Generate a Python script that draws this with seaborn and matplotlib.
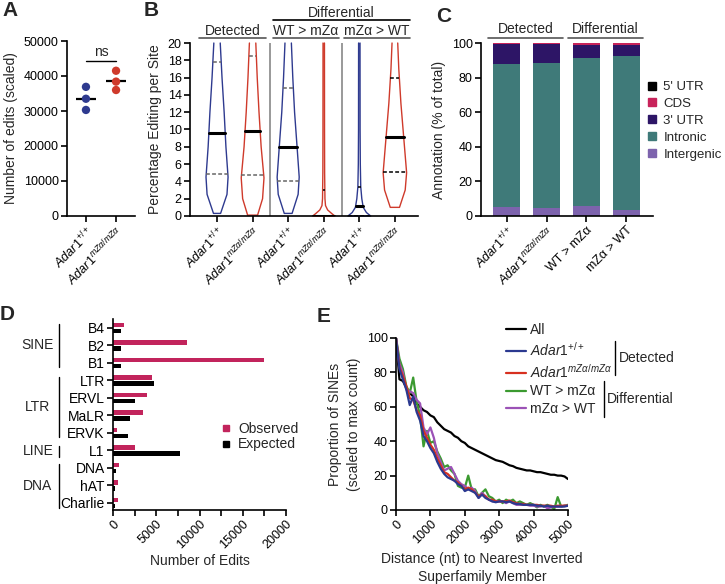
import numpy as np
import pandas as pd
import matplotlib
matplotlib.use('Agg')
import matplotlib.pyplot as plt
import seaborn as sns
from matplotlib.lines import Line2D
from matplotlib.transforms import blended_transform_factory

# ---- data ----
# A: number of edits per replicate
a_geno = ['wt', 'wt', 'wt', 'mut', 'mut', 'mut']
a_edits = [36900, 33500, 30300, 41500, 38400, 36000]

# B: violin profiles (editing %, relative half width) + quartiles
b_levels = [[0.3, 2.5, 4.5, 8, 12, 16, 20],
            [0.1, 2.0, 4.4, 8, 12, 16, 20],
            [0.3, 2.5, 4.5, 8, 12, 16, 20],
            [0, 0.3, 0.7, 1.2, 2, 5, 10, 20],
            [0, 0.4, 1.0, 2.0, 3.4, 6, 10, 20],
            [1.0, 3.0, 5.0, 9, 13, 17, 20]]
b_halfwidth = [[0.10, 0.28, 0.31, 0.25, 0.20, 0.14, 0.09],
               [0.14, 0.28, 0.32, 0.24, 0.18, 0.13, 0.09],
               [0.11, 0.28, 0.31, 0.25, 0.18, 0.13, 0.09],
               [0.31, 0.22, 0.11, 0.05, 0.034, 0.025, 0.022, 0.02],
               [0.32, 0.20, 0.11, 0.07, 0.04, 0.028, 0.022, 0.02],
               [0.13, 0.29, 0.33, 0.25, 0.17, 0.11, 0.08]]
b_median = [9.55, 9.8, 8.0, 0.05, 1.2, 9.1]
b_q1 = [4.9, 4.75, 4.1, 0.0, 0.05, 5.1]
b_q3 = [17.8, 18.55, 14.85, 2.95, 3.35, 15.9]
b_geno = ['wt', 'mut', 'wt', 'mut', 'wt', 'mut']

# C: annotation (% of total)
c_groups = ['wt', 'mut', 'WT > mZα', 'mZα > WT']
c_intergenic = [5.0, 4.6, 5.8, 3.6]
c_intronic = [83.1, 84.1, 85.5, 88.9]
c_utr3 = [11.3, 10.7, 7.4, 6.5]
c_cds = [0.5, 0.5, 1.2, 0.8]
c_utr5 = [0.1, 0.1, 0.1, 0.2]

# D: repeat families
d_family = ['B4', 'B2', 'B1', 'LTR', 'ERVL', 'MaLR', 'ERVK', 'L1', 'DNA', 'hAT', 'Charlie']
d_observed = [1230, 8520, 17420, 4510, 3970, 3430, 420, 2500, 690, 620, 620]
d_expected = [960, 890, 960, 4740, 2500, 1930, 1730, 7780, 390, 270, 190]

# E: proportion of SINEs vs distance
e_dist = list(range(0, 5001, 100))
e_all = [100, 76, 75, 71, 68, 66, 62, 60, 58, 57, 55, 54, 51, 49, 47, 46, 45, 43, 42, 40,
         39, 37, 36, 35, 34, 33, 32, 31, 30, 29, 28.5, 28, 27, 26, 25.5, 24.5, 24, 23.5, 23, 23,
         22.5, 22, 22, 21.5, 21, 20.5, 20.5, 20, 20, 19.5, 18]
e_wt = [100, 82, 76, 70, 61, 66, 57, 52, 43, 40, 36, 33, 28, 24, 21, 19, 18, 17, 15, 14,
        11, 12, 11, 10, 7, 9, 7, 6, 5, 4.5, 5, 5, 4.5, 5, 4, 3.5, 3.5, 3, 3, 3,
        3, 2.5, 2.5, 2, 2.5, 2, 2, 2, 2, 2, 2.5]
e_mut = [100, 83, 78, 72, 65, 64, 58, 55, 46, 42, 38, 35, 30, 26, 22, 21, 19, 17, 16, 14,
         12, 13, 12, 10, 8, 9, 8, 6, 6, 5, 5, 5, 5, 5.5, 4.5, 4, 3.5, 3.5, 3, 3,
         3, 3, 2.5, 2.5, 2.5, 2.5, 2, 2.5, 2.5, 2.5, 2.5]
e_wt_gt = [100, 88, 82, 72, 68, 77, 63, 55, 37, 46, 39, 40, 34, 30, 25, 26, 23, 21, 14, 13,
           13, 20, 12, 12, 8, 10, 12, 8, 7, 5, 6, 4, 6, 5, 6, 4, 5, 4, 3, 4,
           3, 1.5, 3, 2, 3, 2, 0.5, 7.5, 2, 2.5, 3]
e_mut_gt = [100, 85, 80, 70, 69, 68, 64, 62, 48, 44, 48, 42, 33, 28, 23, 24, 25, 21, 17, 15,
            14, 12, 13, 11, 7, 10, 8, 6, 5, 5, 5, 5, 4, 5, 4, 3, 3, 3, 3, 2.5,
            2.5, 2, 2, 2.5, 1, 1.5, 2, 2, 2, 2.5, 2.5]

BLUE = '#2e3a8f'
RED = '#cf3a2b'
geno_colors = {'wt': BLUE, 'mut': RED}

sns.set_style('ticks')
plt.rcParams['font.family'] = ['Liberation Sans', 'DejaVu Sans']
plt.rcParams['mathtext.fontset'] = 'custom'
plt.rcParams['mathtext.it'] = 'Liberation Sans:italic'
plt.rcParams['mathtext.rm'] = 'Liberation Sans'
plt.rcParams['axes.linewidth'] = 1.2
plt.rcParams['xtick.major.width'] = 1.2
plt.rcParams['ytick.major.width'] = 1.2
plt.rcParams['xtick.minor.width'] = 1.2
plt.rcParams['xtick.major.size'] = 4
plt.rcParams['ytick.major.size'] = 4
plt.rcParams['xtick.minor.size'] = 4
plt.rcParams['axes.edgecolor'] = 'black'
plt.rcParams['xtick.color'] = 'black'
plt.rcParams['ytick.color'] = 'black'

W, H = 725, 584
fig = plt.figure(figsize=(W / 100, H / 100), dpi=100)


def rect(l, t, r, b):
    return [l / W, 1 - b / H, (r - l) / W, (b - t) / H]


def fline(x0, y0, x1, y1, color='black', lw=1.2):
    fig.add_artist(Line2D([x0 / W, x1 / W], [1 - y0 / H, 1 - y1 / H],
                          transform=fig.transFigure, color=color, lw=lw))


def ftext(x, y, s, **kw):
    fig.text(x / W, 1 - y / H, s, **kw)


wt_lab = r'$\mathit{Adar1}^{\mathit{+/+}}$'
mut_lab = r'$\mathit{Adar1}^{\mathit{mZ\alpha/mZ\alpha}}$'
lab_of = {'wt': wt_lab, 'mut': mut_lab}


def style(ax):
    sns.despine(ax=ax)
    ax.tick_params(labelsize=9, pad=2)


# ---- A ----
axA = fig.add_axes(rect(67, 41, 135, 216))
dfA = pd.DataFrame({'geno': a_geno, 'edits': a_edits})
sns.stripplot(data=dfA, x='geno', y='edits', hue='geno', palette=geno_colors,
              order=['wt', 'mut'], jitter=False, size=6, legend=False, ax=axA)
means = dfA.groupby('geno')['edits'].mean()
for i, g in enumerate(['wt', 'mut']):
    axA.hlines(means[g], i - 0.33, i + 0.33, color='black', lw=1.6)
axA.plot([0, 1], [44300, 44300], color='black', lw=1.0)
axA.text(0.5, 45000, 'ns', ha='center', va='bottom', fontsize=10)
axA.set_xlim(-0.63, 1.63)
axA.set_ylim(0, 50000)
axA.set_yticks(range(0, 50001, 10000))
axA.set_xticks([0, 1])
axA.set_xticklabels([wt_lab, mut_lab], rotation=45, ha='right',
                    rotation_mode='anchor', fontsize=10.5)
axA.set_xlabel('')
axA.set_ylabel('Number of edits (scaled)', fontsize=10)
style(axA)

# ---- B ----
axB = fig.add_axes(rect(190, 43, 418, 216))
for i in range(6):
    ys = np.array(b_levels[i])
    hw = np.array(b_halfwidth[i])
    col = geno_colors[b_geno[i]]
    xs = np.concatenate([i - hw[::-1], i + hw])
    yy = np.concatenate([ys[::-1], ys])
    axB.plot(xs, yy, color=col, lw=1.0, clip_on=False)
    qcol = '#666666' if i < 3 else 'black'
    for q in (b_q1[i], b_q3[i]):
        w = np.interp(q, ys, hw)
        axB.plot([i - w, i + w], [q, q], color=qcol, lw=1.1, ls=(0, (2.5, 1.5)))
    w = np.interp(b_median[i], ys, hw)
    axB.plot([i - w, i + w], [b_median[i]] * 2, color='black', lw=2.2)
for sep in (1.5, 3.5):
    axB.axvline(sep, color='#888888', lw=1.2)
axB.set_xlim(-0.76, 5.65)
axB.set_ylim(0, 20)
axB.set_yticks(range(0, 21, 2))
axB.set_xticks(range(6))
axB.set_xticklabels([lab_of[g] for g in b_geno], rotation=45, ha='right',
                    rotation_mode='anchor', fontsize=10.5)
axB.set_ylabel('Percentage Editing per Site', fontsize=10)
style(axB)

# ---- C ----
axC = fig.add_axes(rect(481, 43, 653, 216))
c_layers = [('Intergenic', c_intergenic, '#7d63ad'),
            ('Intronic', c_intronic, '#3f7a79'),
            ("3' UTR", c_utr3, '#2d1566'),
            ('CDS', c_cds, '#c8235a'),
            ("5' UTR", c_utr5, '#000000')]
cum = np.zeros(4)
tops = []
for name, vals, col in c_layers:
    cum = cum + np.array(vals)
    tops.append((name, cum.copy(), col))
for name, top, col in tops[::-1]:
    sns.barplot(x=c_groups, y=top, color=col, saturation=1, width=0.68,
                linewidth=0, ax=axC)
axC.set_xlim(-0.655, 3.68)
axC.set_ylim(0, 100)
axC.set_yticks(range(0, 101, 20))
axC.set_xticks(range(4))
axC.set_xticklabels([wt_lab, mut_lab, 'WT > mZα', 'mZα > WT'], rotation=45,
                    ha='right', rotation_mode='anchor', fontsize=10.5)
axC.set_ylabel('Annotation (% of total)', fontsize=10)
style(axC)
c_handles = [Line2D([0], [0], marker='s', ls='none', color=col, markersize=5.5)
             for name, vals, col in c_layers[::-1]]
fig.legend(c_handles, [n for n, v, c in c_layers[::-1]], loc='upper left',
           bbox_to_anchor=(647 / W, 1 - 81 / H), frameon=False, fontsize=9.5,
           handlelength=0.8, handletextpad=0.45, labelspacing=0.35,
           borderpad=0, borderaxespad=0)

# ---- D ----
axD = fig.add_axes(rect(113, 319, 286, 510))
dfD = pd.DataFrame({'family': d_family * 2,
                    'edits': d_observed + d_expected,
                    'kind': ['Observed'] * 11 + ['Expected'] * 11})
sns.barplot(data=dfD, x='edits', y='family', hue='kind',
            hue_order=['Observed', 'Expected'], order=d_family,
            palette={'Observed': '#c2245c', 'Expected': 'black'},
            saturation=1, width=0.7, gap=0.3, linewidth=0, legend=False,
            orient='h', ax=axD)
axD.set_ylim(10.4, -0.51)
axD.set_xlim(0, 20000)
axD.set_xticks(range(0, 20001, 5000))
axD.set_xticks(range(0, 20001, 2500), minor=True)
plt.setp(axD.get_xticklabels(), rotation=45, ha='right', rotation_mode='anchor')
axD.set_ylabel('')
axD.set_xlabel('Number of Edits', fontsize=10, labelpad=2)
style(axD)
axD.tick_params(axis='y', labelsize=10)
trD = blended_transform_factory(axD.transAxes, axD.transData)
for name, y0, y1 in [('SINE', -0.25, 2.25), ('LTR', 2.8, 6.25),
                     ('LINE', 6.75, 7.35), ('DNA', 7.8, 10.3)]:
    axD.plot([-0.312, -0.312], [y0, y1], color='black', lw=1.0,
             transform=trD, clip_on=False)
    axD.text(-0.434, (y0 + y1) / 2, name, ha='center', va='center',
             fontsize=10, transform=trD)
d_handles = [Line2D([0], [0], marker='s', ls='none', color=c, markersize=5)
             for c in ('#c2245c', 'black')]
fig.legend(d_handles, ['Observed', 'Expected'], loc='upper left',
           bbox_to_anchor=(220 / W, 1 - 422 / H), frameon=False, fontsize=10,
           handlelength=0.8, handletextpad=0.5, labelspacing=0.1,
           borderpad=0, borderaxespad=0)

# ---- E ----
axE = fig.add_axes(rect(396, 338, 568, 510))
e_series = {'All': e_all, 'wt': e_wt, 'mut': e_mut,
            'WT > mZα': e_wt_gt, 'mZα > WT': e_mut_gt}
e_colors = {'All': 'black', 'wt': '#2b3990', 'mut': '#d7301f',
            'WT > mZα': '#3b9a30', 'mZα > WT': '#9b52b6'}
dfE = pd.concat([pd.DataFrame({'dist': e_dist, 'prop': v, 'series': k})
                 for k, v in e_series.items()])
sns.lineplot(data=dfE, x='dist', y='prop', hue='series',
             hue_order=['All', 'WT > mZα', 'mZα > WT', 'mut', 'wt'],
             palette=e_colors, linewidth=1.6, legend=False, errorbar=None,
             ax=axE)
axE.set_xlim(0, 5000)
axE.set_ylim(0, 100)
axE.set_xticks(range(0, 5001, 1000))
axE.set_yticks(range(0, 101, 20))
plt.setp(axE.get_xticklabels(), rotation=45, ha='right', rotation_mode='anchor')
axE.set_xlabel('Distance (nt) to Nearest Inverted\nSuperfamily Member',
               fontsize=10, linespacing=1.35)
axE.set_ylabel('Proportion of SINEs\n(scaled to max count)', fontsize=10,
               linespacing=1.5)
style(axE)
e_order = ['All', 'wt', 'mut', 'WT > mZα', 'mZα > WT']
e_handles = [Line2D([0], [0], color=e_colors[k], lw=1.6) for k in e_order]
fig.legend(e_handles, ['All', wt_lab, mut_lab, 'WT > mZα', 'mZα > WT'],
           loc='upper left', bbox_to_anchor=(506 / W, 1 - 323 / H),
           frameon=False, fontsize=10, handlelength=1.45, handletextpad=0.25,
           labelspacing=0.28, borderpad=0, borderaxespad=0)
fline(615, 341, 615, 375, lw=1.0)
ftext(619, 358, 'Detected', va='center', fontsize=10)
fline(604, 381, 604, 417, lw=1.0)
ftext(607, 399, 'Differential', va='center', fontsize=10)

# ---- headers ----
ftext(341, 13, 'Differential', ha='center', va='center', fontsize=10)
fline(273, 20, 410, 20, color='black')
for x0, x1, s in [(199, 266, 'Detected'), (273, 339, 'WT > mZα'), (344, 410, 'mZα > WT')]:
    ftext((x0 + x1) / 2, 31, s, ha='center', va='center', fontsize=10)
    fline(x0, 38, x1, 38, color='#555555')
for x0, x1, s in [(488, 563, 'Detected'), (568, 643, 'Differential')]:
    ftext((x0 + x1) / 2, 29, s, ha='center', va='center', fontsize=10)
    fline(x0, 38, x1, 38, color='#555555')

# panel letters
for x, y, s in [(2, 10, 'A'), (144, 10, 'B'), (436, 16, 'C'), (0, 315, 'D'), (317, 316, 'E')]:
    ftext(x, y, s, fontsize=15, fontweight='bold', va='center', ha='left')

fig.savefig('out.png', dpi=100)
